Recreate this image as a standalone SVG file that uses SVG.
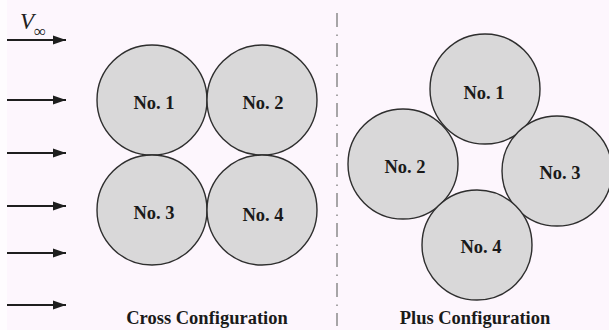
<svg xmlns="http://www.w3.org/2000/svg" width="609" height="330" viewBox="0 0 609 330">
  <style>
    .cyl { fill: #d9d8d9; stroke: #2e2e2e; stroke-width: 1.4; }
    .lbl { font-family: "Liberation Serif", "Times New Roman", serif; font-weight: bold; font-size: 18.5px; fill: #1a1a1a; text-anchor: middle; }
    .flow { stroke: #1e1e1e; stroke-width: 2; fill: none; }
  </style>
  <defs>
    <marker id="ah" markerUnits="userSpaceOnUse" markerWidth="14" markerHeight="11" refX="13" refY="5.5" orient="auto">
      <path d="M0,1 L13,5.5 L0,10 Z" fill="#1e1e1e"/>
    </marker>
  </defs>
  <rect x="0" y="0" width="609" height="330" fill="#fdf6fd"/>
  <rect x="0" y="0" width="7" height="330" fill="#fefcfe"/>

  <g id="connectors">
    <line class="flow" x1="7" y1="40" x2="66" y2="40" marker-end="url(#ah)"/>
    <line class="flow" x1="7" y1="100" x2="66" y2="100" marker-end="url(#ah)"/>
    <line class="flow" x1="7" y1="153" x2="66" y2="153" marker-end="url(#ah)"/>
    <line class="flow" x1="7" y1="206" x2="66" y2="206" marker-end="url(#ah)"/>
    <line class="flow" x1="7" y1="253" x2="66" y2="253" marker-end="url(#ah)"/>
    <line class="flow" x1="7" y1="305" x2="66" y2="305" marker-end="url(#ah)"/>
  </g>

  <g id="vinf">
    <text x="20" y="29" font-family="Liberation Serif, serif" font-style="italic" font-size="23" fill="#222">V</text>
    <text x="34" y="37" font-family="Liberation Serif, serif" font-size="17" fill="#222">∞</text>
  </g>

  <line id="divider" x1="337" y1="13" x2="337" y2="326" stroke="#8a8a8a" stroke-width="1.5" stroke-dasharray="14 7.5 1.5 7"/>

  <g id="cross">
    <g id="cross-1"><circle class="cyl" cx="152" cy="100" r="55"/><text class="lbl" x="154" y="109">No. 1</text></g>
    <g id="cross-2"><circle class="cyl" cx="262" cy="100" r="55"/><text class="lbl" x="263" y="109">No. 2</text></g>
    <g id="cross-3"><circle class="cyl" cx="152" cy="210" r="55"/><text class="lbl" x="154" y="219">No. 3</text></g>
    <g id="cross-4"><circle class="cyl" cx="262" cy="210" r="55"/><text class="lbl" x="263" y="221">No. 4</text></g>
    <text id="cross-title" class="lbl" x="207" y="324">Cross Configuration</text>
  </g>

  <g id="plus">
    <g id="plus-1"><circle class="cyl" cx="485" cy="89" r="55"/><text class="lbl" x="484" y="99">No. 1</text></g>
    <g id="plus-2"><circle class="cyl" cx="403" cy="164" r="55"/><text class="lbl" x="405" y="173">No. 2</text></g>
    <g id="plus-3"><circle class="cyl" cx="557" cy="171" r="55"/><text class="lbl" x="560" y="179">No. 3</text></g>
    <g id="plus-4"><circle class="cyl" cx="477" cy="245" r="55"/><text class="lbl" x="481" y="253">No. 4</text></g>
    <text id="plus-title" class="lbl" x="475" y="324">Plus Configuration</text>
  </g>
</svg>
